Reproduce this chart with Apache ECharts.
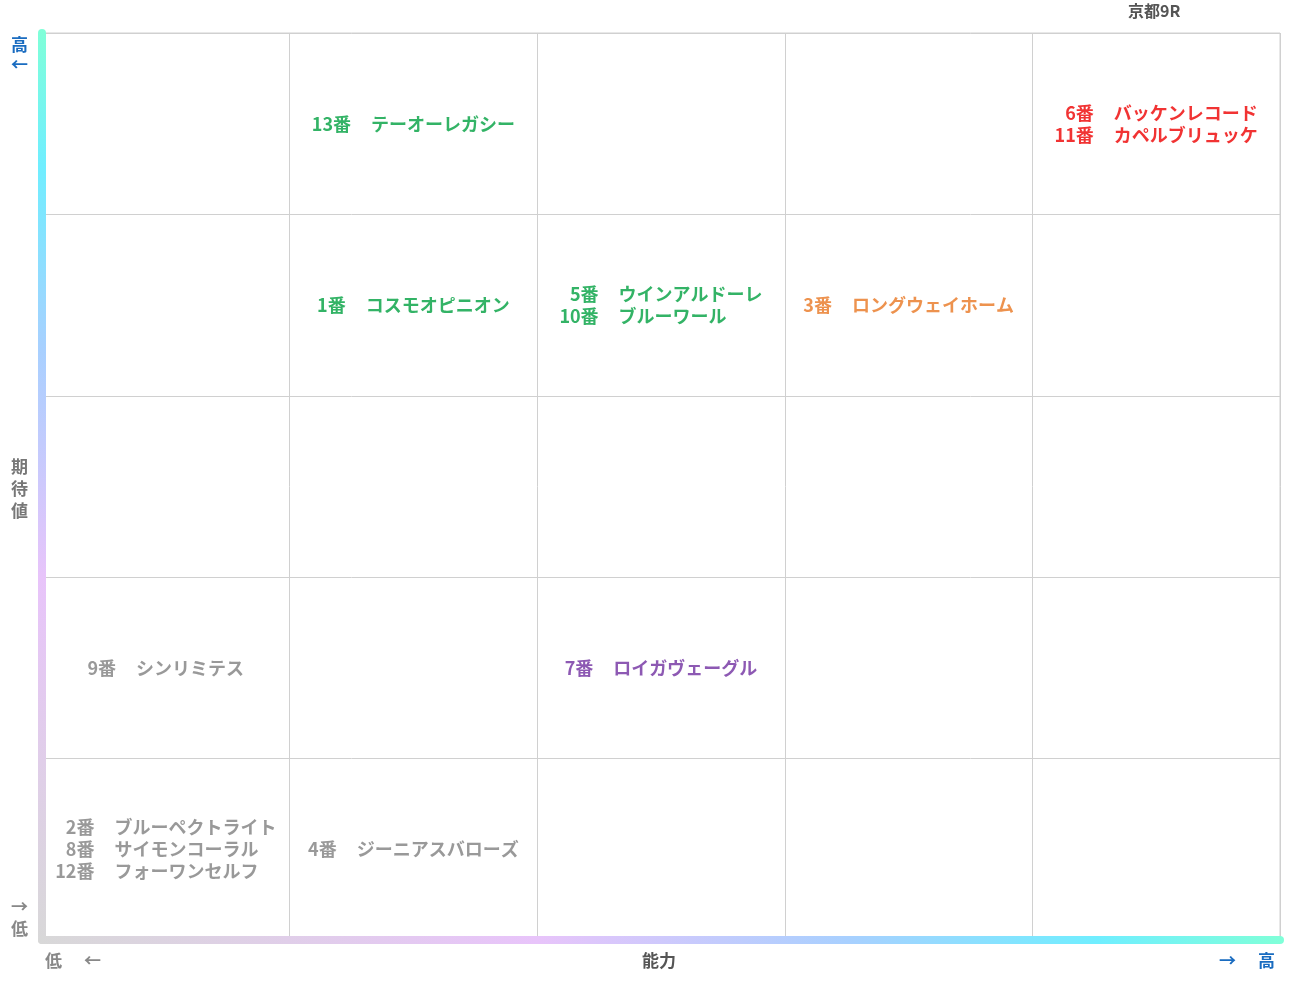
<!DOCTYPE html>
<html><head><meta charset="utf-8">
<script src="https://cdn.jsdelivr.net/npm/echarts@6/dist/echarts.min.js"></script>
<style>html,body{margin:0;padding:0;background:#fff}#c{width:1291px;height:983px}</style>
</head><body><div id="c"></div>
<script>
const xCats = ['1','2','3','4','5'];
const yCats = ['1','2','3','4','5'];
const cellX = [1, 4, 1, 2, 3, 0, 2, 0, 1];
const cellY = [4, 4, 3, 3, 3, 1, 1, 0, 0];
const cellNums = [['13'],['6','11'],['1'],['5','10'],['3'],['9'],['7'],['2','8','12'],['4']];
const cellNames = [['テーオーレガシー'],['バッケンレコード','カペルブリュッケ'],['コスモオピニオン'],['ウインアルドーレ','ブルーワール'],['ロングウェイホーム'],['シンリミテス'],['ロイガヴェーグル'],['ブルーペクトライト','サイモンコーラル','フォーワンセルフ'],['ジーニアスバローズ']];
const cellColors = ['#00a040','#ee0000','#00a040','#00a040','#e87722','#808080','#7030a0','#808080','#808080'];

const FONT = "'Noto Sans CJK JP', sans-serif";
const data = cellX.map((x, i) => {
  const maxDigits = Math.max(...cellNums[i].map(s => s.length));
  const txt = cellNums[i].map((n, k) => {
    const pad = '\u2007'.repeat(maxDigits - n.length);
    return '{n|' + pad + n + '番}{t|' + cellNames[i][k] + '}';
  }).join('\n');
  return {
    value: [x, cellY[i]],
    label: {
      show: true, position: 'inside', align: 'center', formatter: txt, color: cellColors[i],
      rich: {
        n: {align: 'left', color: cellColors[i], fontSize: 18, fontWeight: 'bold', fontFamily: FONT, lineHeight: 22},
        t: {align: 'left', padding: [0,0,0,20], color: cellColors[i], fontSize: 18, fontWeight: 'bold', fontFamily: FONT, lineHeight: 22}
      }
    }
  };
});

const stops = [
  {offset: 0, color: '#d8d8d8'}, {offset: 0.4, color: '#e8c4fa'}, {offset: 0.65, color: '#a8d0ff'}, {offset: 0.85, color: '#70eeff'}, {offset: 1, color: '#80ffd8'}];
const gradY = new echarts.graphic.LinearGradient(0, 1, 0, 0, stops);
const gradX = new echarts.graphic.LinearGradient(0, 0, 1, 0, stops);

const chart = echarts.init(document.getElementById('c'));
chart.setOption({
  backgroundColor: '#fff',
  animation: false,
  grid: {left: 42, right: 11, top: 33, bottom: 43, show: true, borderColor: '#d0d0d0', borderWidth: 1},
  xAxis: {type: 'category', data: xCats, boundaryGap: true,
    axisLine: {show: true, lineStyle: {color: gradX, width: 8}},
    axisTick: {show: false}, axisLabel: {show: false},
    splitLine: {show: true, lineStyle: {color: '#d0d0d0', width: 1}}},
  yAxis: {type: 'category', data: yCats, boundaryGap: true,
    axisLine: {show: true, lineStyle: {color: gradY, width: 8}},
    axisTick: {show: false}, axisLabel: {show: false},
    splitLine: {show: true, lineStyle: {color: '#d0d0d0', width: 1}}},
  series: [{type: 'scatter', symbolSize: 0, data: data}],
  graphic: [
    {type: 'text', left: 1128, top: 3, style: {text: '京都9R', fill: '#555', font: "bold 16px " + FONT}},
    {type: 'text', left: 11, top: 35, style: {text: '高\n←', fill: '#1a6cc0', font: "bold 17px " + FONT, lineHeight: 20}},
    {type: 'text', left: 11, top: 456, style: {text: '期\n待\n値', fill: '#777', font: "bold 17px " + FONT, lineHeight: 22}},
    {type: 'text', left: 11, top: 896, style: {text: '→\n低', fill: '#888', font: "bold 17px " + FONT, lineHeight: 22}},
    {type: 'text', left: 45, top: 952, style: {text: '低', fill: '#888', font: "bold 17px " + FONT}},
    {type: 'text', left: 84, top: 952, style: {text: '←', fill: '#888', font: "bold 17px " + FONT}},
    {type: 'text', left: 642, top: 952, style: {text: '能力', fill: '#555', font: "bold 17px " + FONT}},
    {type: 'text', left: 1219, top: 952, style: {text: '→', fill: '#1a6cc0', font: "bold 17px " + FONT}},
    {type: 'text', left: 1258, top: 952, style: {text: '高', fill: '#1a6cc0', font: "bold 17px " + FONT}}
  ]
});
</script></body></html>
